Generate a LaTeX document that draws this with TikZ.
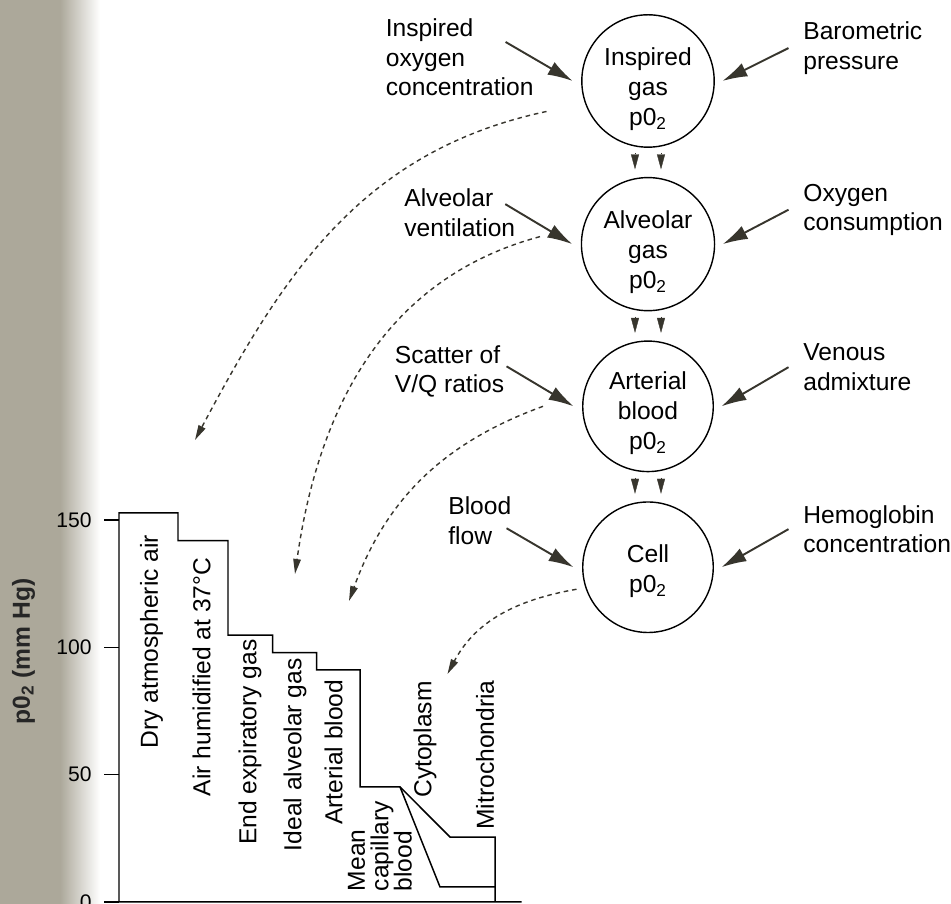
\documentclass[tikz,border=0pt]{standalone}
\usepackage{fontspec}
\setmainfont{Liberation Sans}
\usetikzlibrary{arrows.meta, positioning}
\definecolor{arrowgray}{RGB}{55,53,45}
\definecolor{pagegray}{RGB}{172,168,154}
\tikzset{
    gas circle/.style = {circle, draw, line width=0.8pt, minimum size=2.61cm, inner sep=0pt, align=center, font=\fontsize{14}{17}\selectfont},
    side label/.style = {anchor=north west, align=left, inner sep=0pt, font=\fontsize{14}{16.8}\selectfont},
    bar label/.style = {rotate=90, anchor=west, align=left, inner sep=0pt, font=\fontsize{14}{13.3}\selectfont},
    tick label/.style = {anchor=east, inner sep=0pt, font=\fontsize{12}{14}\selectfont},
    chart line/.style = {line width=0.85pt, line join=miter},
    feed arrow/.style = {draw=arrowgray, line width=1.1pt, -{Latex[length=0.5cm, width=0.29cm]}},
    trace arrow/.style = {draw=arrowgray, line width=0.8pt, dash pattern=on 2.6pt off 2.2pt, -{Triangle[length=0.3cm, width=0.15cm]}},
    pass tip/.style = {draw=arrowgray, fill=arrowgray, line width=0.2pt, shorten <=0.11cm, shorten >=0.15cm, -{Triangle[length=0.3cm, width=0.16cm]}}
}

\begin{document}
\begin{tikzpicture}
        \useasboundingbox (0,0) rectangle (19.02,18.08);
        \fill[pagegray] (0,0) rectangle (1.2,18.08);
        \shade[left color=pagegray, right color=white] (1.2,0) rectangle (2.0,18.08);

        % oxygen cascade
        \node[gas circle] (ins) at (12.96,16.46) {\rule{0pt}{1.4em}Inspired\\gas\\p0\textsubscript{2}};
        \node[gas circle, below=0.58cm of ins] (alv) {\rule{0pt}{1.4em}Alveolar\\gas\\p0\textsubscript{2}};
        \node[gas circle, below=0.58cm of alv] (art) {\rule{0pt}{1.3em}Arterial\\blood\\p0\textsubscript{2}};
        \node[gas circle, below=0.58cm of art] (cell) {\rule{0pt}{1.05em}Cell\\p0\textsubscript{2}};

        \draw[pass tip] ([xshift=-0.26cm]ins.south) -- ([xshift=-0.26cm]alv.north);
        \draw[pass tip] ([xshift=0.26cm]ins.south) -- ([xshift=0.26cm]alv.north);
        \draw[pass tip] ([xshift=-0.26cm]alv.south) -- ([xshift=-0.26cm]art.north);
        \draw[pass tip] ([xshift=0.26cm]alv.south) -- ([xshift=0.26cm]art.north);
        \draw[pass tip] ([xshift=-0.26cm]art.south) -- ([xshift=-0.26cm]cell.north);
        \draw[pass tip] ([xshift=0.26cm]art.south) -- ([xshift=0.26cm]cell.north);

        \node[side label] (iocl) at (7.71,17.71) {Inspired\\oxygen\\concentration};
        \node[side label] (avl) at (8.08,14.31) {Alveolar\\ventilation};
        \node[side label] (vql) at (7.89,11.18) {Scatter of\\V/Q ratios};
        \node[side label] (bfl) at (8.96,8.15) {Blood\\flow};
        \node[side label] (bpl) at (16.06,17.65) {Barometric\\pressure};
        \node[side label] (ocl) at (16.06,14.41) {Oxygen\\consumption};
        \node[side label] (val) at (16.06,11.21) {Venous\\admixture};
        \node[side label] (hcl) at (16.06,7.98) {Hemoglobin\\concentration};

        \draw[feed arrow] ([shift={(-1.51,0.78)}]ins.west) -- ([xshift=-0.17cm]ins.west);
        \draw[feed arrow] ([shift={(-1.51,0.80)}]alv.west) -- ([xshift=-0.17cm]alv.west);
        \draw[feed arrow] ([shift={(-1.51,0.80)}]art.west) -- ([xshift=-0.17cm]art.west);
        \draw[feed arrow] ([shift={(-1.51,0.78)}]cell.west) -- ([xshift=-0.17cm]cell.west);
        \draw[feed arrow] ([xshift=-0.29cm]bpl.west) -- ([xshift=0.15cm]ins.east);
        \draw[feed arrow] ([xshift=-0.29cm]ocl.west) -- ([xshift=0.15cm]alv.east);
        \draw[feed arrow] ([xshift=-0.29cm]val.west) -- ([xshift=0.15cm]art.east);
        \draw[feed arrow] ([xshift=-0.29cm]hcl.west) -- ([xshift=0.15cm]cell.east);

        % step chart
        \begin{scope}[shift={(2.38,0.04)}, y=0.05094cm]
            \draw[chart line] (8.05,0) -- (0,0) -- (0,152.8) -- (1.18,152.8) -- (1.18,141.9)
                -- (2.18,141.9) -- (2.18,104.8) -- (3.07,104.8) -- (3.07,97.9) -- (3.95,97.9)
                -- (3.95,91.1) -- (4.82,91.1) -- (4.82,45.2) -- (5.62,45.2) -- (6.62,25.5)
                -- (7.52,25.5) -- (7.52,0);
            \draw[chart line] (5.62,45.2) -- (6.42,5.9) -- (7.52,5.9);
            \draw[chart line] (-0.3,150) -- (0,150);
            \draw[chart line] (-0.3,100) -- (0,100);
            \draw[chart line] (-0.3,50) -- (0,50);
            \draw[chart line] (-0.3,0) -- (0,0);
            \node[tick label] (t150) at (-0.54,150) {150};
            \node[tick label] (t100) at (-0.54,100) {100};
            \node[tick label] (t50) at (-0.54,50) {50};
            \node[tick label] (t0) at (-0.54,0) {0};
        \end{scope}
        \node[rotate=90, text=black!85, font=\bfseries\fontsize{14}{16}\selectfont] (ylab) at (0.47,5.05) {p0\textsubscript{2} (mm Hg)};

        \node[bar label] (dry) at (3.03,3.11) {Dry atmospheric air};
        \node[bar label] (hum) at (4.03,2.15) {Air humidified at 37°C};
        \node[bar label] (eeg) at (5.00,1.18) {End expiratory gas};
        \node[bar label] (iag) at (5.90,1.05) {Ideal alveolar gas};
        \node[bar label] (arb) at (6.67,1.58) {Arterial blood};
        \node[bar label] (mcb) at (7.60,0.25) {Mean\\capillary\\blood};
        \node[bar label] (cyt) at (8.50,2.12) {Cytoplasm};
        \node[bar label] (mit) at (9.70,1.48) {Mitrochondria};

        % where each stage lands on the chart
        \coordinate (air hit) at (3.90,9.28);
        \coordinate (alv hit) at (5.90,6.60);
        \coordinate (art hit) at (6.98,6.06);
        \coordinate (cyt hit) at (8.95,4.60);
        \draw[trace arrow] ([shift={(-2.03,-0.61)}]ins.center) to[out=192, in=62] (air hit);
        \draw[trace arrow] ([shift={(-2.16,0.15)}]alv.center) to[out=195, in=82] (alv hit);
        \draw[trace arrow] ([shift={(-2.10,0)}]art.center) to[out=200, in=70] (art hit);
        \draw[trace arrow] ([shift={(-1.43,-0.44)}]cell.center) to[out=190, in=62] (cyt hit);
    \end{tikzpicture}
\end{document}
